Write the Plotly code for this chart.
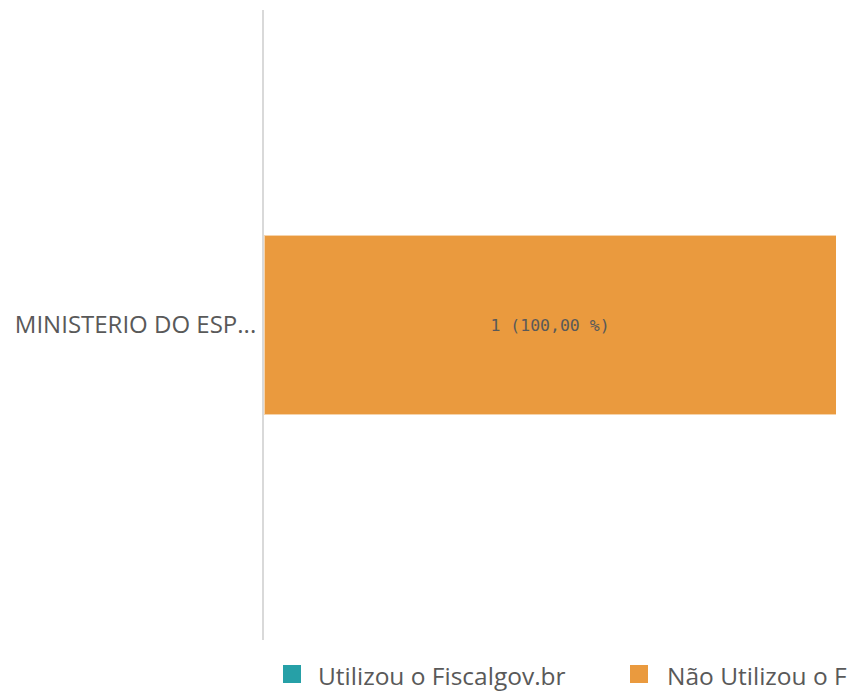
import plotly.graph_objects as go

categories = ["MINISTERIO DO ESP..."]
utilizou = [0]
nao_utilizou = [1]
nao_labels = ["1 (100,00 %)"]
series_names = ["Utilizou o Fiscalgov.br", "Não Utilizou o F"]
colors = ["#26A0A7", "#EA9A3E"]

W, H = 851, 685
ML, MR, MT, MB = 256, 23, 2, 53
PW, PH = W - ML - MR, H - MT - MB


def px_x(p):
    return (p - ML) / PW


def px_y(p):
    return (H - MB - p) / PH


fig = go.Figure()
fig.add_trace(go.Bar(
    y=categories, x=utilizou, orientation="h", name=series_names[0],
    marker=dict(color=colors[0], line=dict(width=0)), showlegend=False,
))
fig.add_trace(go.Bar(
    y=categories, x=nao_utilizou, orientation="h", name=series_names[1],
    marker=dict(color=colors[1], line=dict(color="#F6D3AA", width=1)),
    text=nao_labels, textposition="inside", insidetextanchor="middle",
    textfont=dict(family="DejaVu Sans Mono", size=16.5, color="#595959"),
    showlegend=False,
))

# manual legend
legend_icon_x = [275, 622]
legend_text_x = [308, 657]
shapes = []
annotations = []
for i, name in enumerate(series_names):
    shapes.append(dict(type="rect", xref="paper", yref="paper",
                       x0=px_x(legend_icon_x[i]), x1=px_x(legend_icon_x[i] + 18),
                       y0=px_y(675), y1=px_y(657),
                       fillcolor=colors[i], line=dict(width=0)))
    annotations.append(dict(xref="paper", yref="paper", x=px_x(legend_text_x[i]),
                            y=px_y(667), xanchor="left", yanchor="middle",
                            text=name, showarrow=False,
                            font=dict(family="Open Sans", size=24.5, color="#595959")))

fig.update_layout(
    barmode="stack",
    bargap=0.716,
    width=W, height=H,
    margin=dict(l=ML, r=MR, t=MT, b=MB, autoexpand=False),
    paper_bgcolor="white", plot_bgcolor="white",
    font=dict(family="Open Sans", color="#595959"),
    xaxis=dict(range=[0, 1], visible=False, fixedrange=True),
    yaxis=dict(showline=True, linecolor="#d9d9d9", linewidth=2, showgrid=False,
               zeroline=False, ticks="", ticklabelstandoff=1, automargin=False,
               tickfont=dict(family="Open Sans", size=24, color="#595959")),
    showlegend=False,
    shapes=shapes,
    annotations=annotations,
)

fig.write_html("out.html")
